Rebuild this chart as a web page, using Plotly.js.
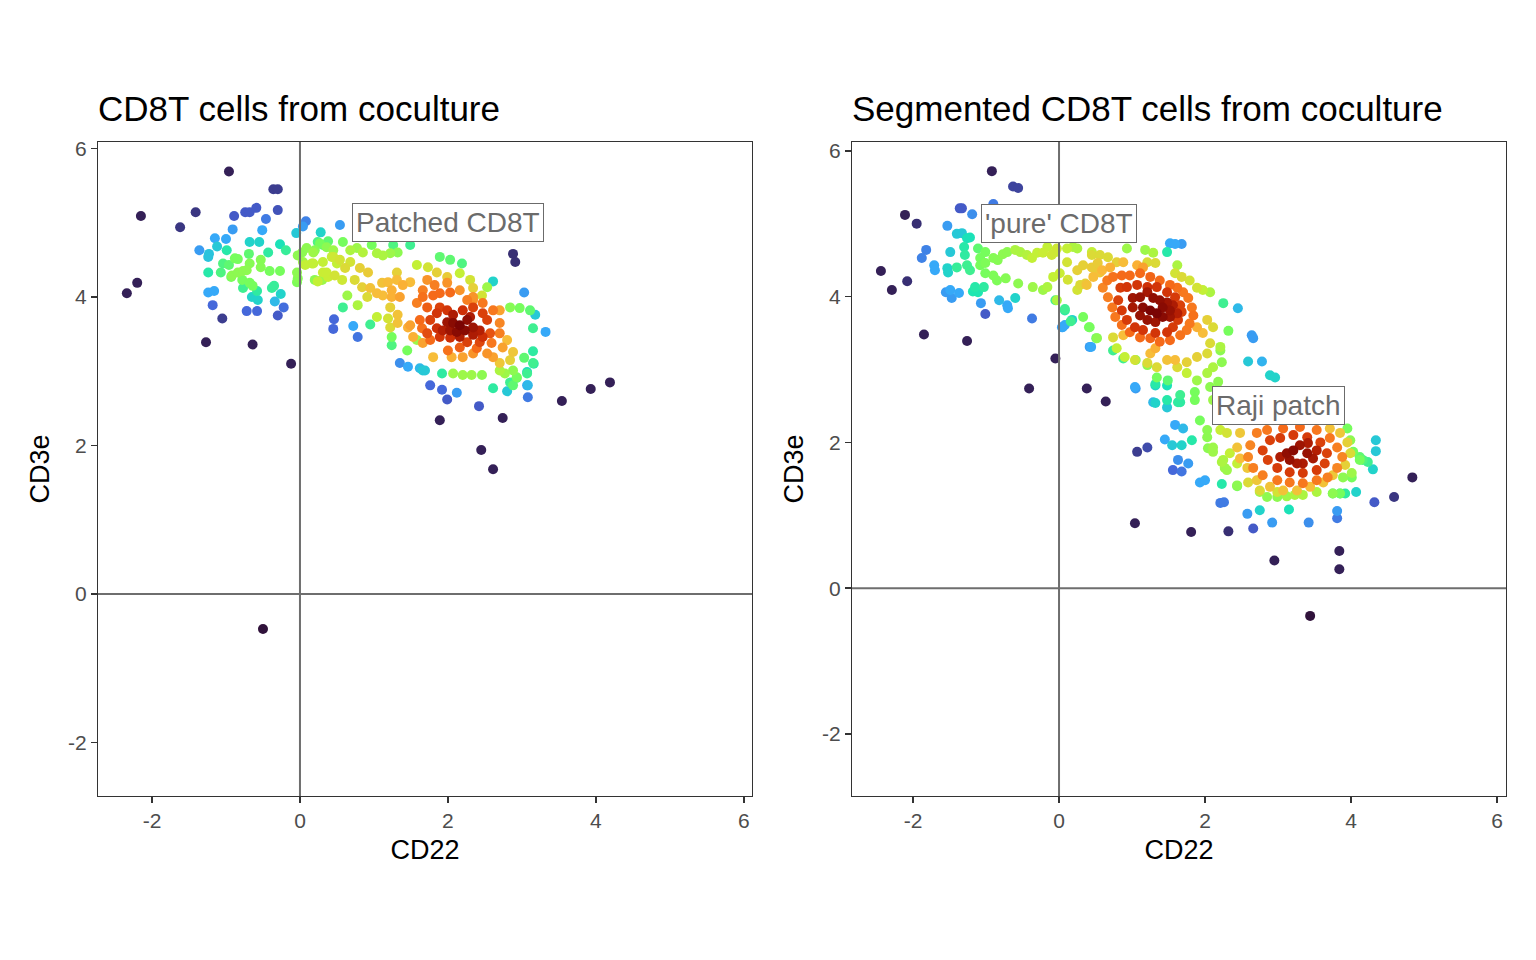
<!DOCTYPE html>
<html><head><meta charset="utf-8">
<script src="https://cdn.plot.ly/plotly-3.0.1.min.js"></script>
<style>html,body{margin:0;padding:0;background:#fff}#chart{width:1536px;height:960px}</style>
</head><body><div id="chart"></div>
<script>
// ---- text ----
const panelTitles = ['CD8T cells from coculture', 'Segmented CD8T cells from coculture'];
const xAxisTitle = 'CD22';
const yAxisTitle = 'CD3e';
const tickValues = [-2, 0, 2, 4, 6];
const tickLabels = ['-2', '0', '2', '4', '6'];
const leftLabels = [{text: 'Patched CD8T', x: 2, y: 5}];
const rightLabels = [{text: "'pure' CD8T", x: 0, y: 5}, {text: 'Raji patch', x: 3, y: 2.5}];

// ---- data: [CD22, CD3e, relative point density] ----
const cocultureCells = [
[-0.96,5.69,0.02],[-0.36,5.45,0.06],[-0.30,5.45,0.06],[-2.15,5.09,0.02],[-1.41,5.14,0.05],[-1.62,4.94,0.05],
[-0.89,5.09,0.10],[-0.74,5.14,0.10],[-0.68,5.14,0.10],[-0.59,5.20,0.10],[-0.30,5.17,0.09],[-0.46,5.05,0.15],
[-0.91,4.91,0.20],[-0.51,4.90,0.22],[0.08,5.02,0.16],[0.04,4.95,0.20],[-0.05,4.86,0.28],[0.28,4.87,0.30],
[-1.15,4.79,0.22],[-1.00,4.78,0.22],[-1.36,4.63,0.20],[-1.23,4.58,0.27],[-1.24,4.54,0.27],[-1.12,4.68,0.28],
[-0.99,4.63,0.35],[-0.68,4.74,0.30],[-0.55,4.74,0.30],[-0.27,4.71,0.33],[-0.19,4.63,0.37],[-0.43,4.60,0.36],
[-0.69,4.58,0.42],[-0.88,4.52,0.45],[-0.84,4.51,0.45],[-1.04,4.45,0.40],[-0.96,4.43,0.42],[-0.68,4.45,0.47],
[-0.53,4.50,0.47],[-0.53,4.40,0.47],[-0.41,4.35,0.45],[-0.27,4.35,0.45],[-1.24,4.33,0.35],[-1.07,4.33,0.40],
[-0.92,4.29,0.48],[-0.84,4.33,0.48],[-0.77,4.35,0.48],[-0.72,4.36,0.48],[-0.93,4.27,0.45],[-0.78,4.23,0.45],
[-0.68,4.19,0.45],[-0.64,4.15,0.45],[-0.77,4.12,0.38],[-0.58,4.08,0.36],[-0.38,4.12,0.37],[-0.35,4.15,0.37],
[-0.26,4.04,0.30],[-1.24,4.06,0.22],[-1.16,4.08,0.22],[-0.65,4.00,0.30],[-0.57,3.96,0.30],[-0.34,3.94,0.25],
[-1.18,3.89,0.12],[-0.22,3.86,0.13],[-0.72,3.81,0.12],[-0.58,3.81,0.12],[-0.30,3.75,0.10],[-1.05,3.71,0.06],
[-2.20,4.19,0.02],[-2.34,4.05,0.02],[-1.27,3.39,0.02],[-0.64,3.36,0.02],[-0.12,3.10,0.02],[-0.50,-0.47,0.00],
[-0.03,4.56,0.48],[0.03,4.60,0.48],[0.09,4.66,0.48],[0.18,4.60,0.50],[0.04,4.47,0.50],[-0.04,4.33,0.48],
[-0.03,4.25,0.47],[-0.04,4.20,0.46],[0.24,4.74,0.40],[0.31,4.70,0.42],[0.38,4.75,0.42],
[0.16,4.45,0.55],[0.31,4.47,0.55],[0.43,4.54,0.55],[0.50,4.45,0.55],[0.31,4.33,0.56],[0.38,4.27,0.56],[0.24,4.21,0.55],
[0.46,3.70,0.12],[0.45,3.57,0.12],[0.54,4.97,0.20],
[0.20,4.63,0.47],[0.27,4.72,0.45],[0.36,4.67,0.48],[0.45,4.63,0.50],[0.58,4.74,0.45],[0.68,4.63,0.52],
[0.77,4.66,0.50],[0.85,4.60,0.53],[0.97,4.70,0.45],[1.04,4.59,0.52],[1.12,4.56,0.52],[1.22,4.59,0.50],
[1.32,4.60,0.48],[1.26,4.70,0.40],[1.49,4.70,0.38],
[0.07,4.43,0.55],[0.18,4.45,0.55],[0.45,4.54,0.57],[0.54,4.50,0.58],[0.68,4.47,0.58],[0.61,4.39,0.60],
[0.47,4.29,0.58],[0.57,4.23,0.57],[0.36,4.33,0.56],[0.30,4.23,0.50],[0.20,4.23,0.48],
[0.81,4.39,0.62],[0.92,4.33,0.63],[0.74,4.23,0.60],[0.84,4.13,0.62],[0.95,4.12,0.65],[1.04,4.05,0.66],
[0.91,4.00,0.60],[1.11,4.19,0.65],[1.19,4.20,0.66],[1.31,4.33,0.62],[1.31,4.23,0.66],[1.39,4.16,0.68],
[1.49,4.20,0.66],[1.24,4.09,0.68],[1.12,4.02,0.66],[1.24,4.00,0.68],[1.35,4.00,0.70],
[0.64,4.02,0.50],[0.58,3.86,0.38],[0.78,3.89,0.52],[1.04,3.73,0.55],[1.22,3.86,0.62],[1.19,3.71,0.58],
[1.32,3.76,0.65],[1.22,3.59,0.60],[1.32,3.65,0.65],[1.46,3.59,0.68],
[1.58,4.43,0.55],[1.73,4.40,0.58],[1.89,4.54,0.42],[2.03,4.50,0.42],[1.85,4.33,0.62],[1.99,4.27,0.63],
[2.16,4.32,0.55],[2.19,4.45,0.40],[2.30,4.23,0.58],[2.34,4.12,0.62],[2.46,4.02,0.58],[2.53,4.13,0.50],
[1.72,4.23,0.72],[1.82,4.16,0.75],[1.99,4.19,0.72],[1.66,4.09,0.75],[1.80,4.02,0.78],[1.89,4.05,0.78],
[2.03,4.06,0.78],[2.16,4.09,0.72],[2.26,3.96,0.75],[2.34,3.96,0.72],
[2.07,3.65,0.98],[2.16,3.62,1.00],[2.26,3.69,0.97],[2.12,3.53,0.98],[2.23,3.55,0.98],[2.34,3.59,0.95],
[1.99,3.66,0.95],[2.03,3.55,0.95],[2.34,3.49,0.93],[2.43,3.55,0.92],[2.30,3.73,0.93],[2.07,3.76,0.93],
[1.93,3.55,0.92],[2.16,3.46,0.93],[2.47,3.46,0.88],
[1.76,3.69,0.85],[1.85,3.78,0.87],[1.89,3.86,0.85],[1.99,3.82,0.87],[2.20,3.82,0.88],[2.34,3.86,0.85],
[2.47,3.78,0.85],[2.53,3.69,0.85],[1.85,3.58,0.88],[1.72,3.51,0.83],[1.89,3.46,0.87],[2.03,3.45,0.88],
[2.26,3.39,0.85],[2.43,3.39,0.84],[2.57,3.51,0.82],
[1.58,3.92,0.75],[1.66,4.00,0.77],[1.72,3.86,0.80],[1.62,3.69,0.78],[1.65,3.58,0.77],[1.76,3.42,0.78],
[2.00,3.28,0.77],[2.16,3.32,0.80],[2.39,3.31,0.78],[2.59,3.38,0.76],[2.70,3.51,0.75],[2.70,3.65,0.74],
[2.61,3.82,0.76],[2.47,3.92,0.76],[2.34,4.00,0.72],[2.70,3.82,0.70],
[1.49,3.62,0.70],[1.53,3.46,0.68],[1.66,3.38,0.70],[1.80,3.19,0.66],[2.05,3.19,0.68],[2.20,3.19,0.70],
[2.34,3.24,0.72],[2.53,3.24,0.72],[2.61,3.19,0.70],[2.74,3.32,0.70],[2.80,3.42,0.66],[2.88,3.26,0.64],
[2.84,3.15,0.62],[2.70,3.11,0.64],
[2.70,3.01,0.52],[2.77,2.97,0.50],[2.88,3.01,0.48],[2.93,2.92,0.45],[2.07,2.97,0.50],[2.20,2.95,0.50],
[2.32,2.95,0.50],[2.46,2.95,0.48],[1.45,3.28,0.45],[1.58,3.42,0.50],[1.24,3.35,0.40],[2.88,2.81,0.42],
[0.95,3.63,0.38],[1.66,3.01,0.28],[1.92,2.97,0.36],[2.61,2.77,0.36],[2.84,2.85,0.38],[3.07,2.97,0.38],
[3.15,3.11,0.38],[3.15,3.58,0.38],[3.11,3.82,0.42],[2.97,3.85,0.45],[2.84,3.86,0.47],
[0.72,3.61,0.22],[1.35,3.11,0.18],[1.46,3.06,0.22],[2.12,2.71,0.20],[2.80,2.73,0.28],[3.07,2.81,0.22],
[3.18,3.76,0.28],[3.32,3.53,0.22],[3.03,4.06,0.20],[2.61,4.21,0.30],
[0.78,3.46,0.14],[1.76,2.81,0.12],[1.92,2.75,0.12],[1.99,2.62,0.10],[2.88,4.58,0.04],[2.91,4.47,0.04],
[3.16,3.10,0.35],[3.15,3.27,0.36],[3.03,3.18,0.42],[3.07,2.99,0.32],[3.08,2.81,0.25],[3.08,2.65,0.15],
[2.93,2.91,0.42],[1.62,3.04,0.25],[1.69,3.01,0.28],[1.24,3.46,0.45],
[2.42,2.53,0.10],[1.89,2.34,0.02],[2.74,2.37,0.02],[2.45,1.94,0.02],[2.61,1.68,0.02],[3.54,2.60,0.02],
[3.93,2.76,0.02],[4.19,2.85,0.02]
];

const segmentedCells = [
[-0.92,5.72,0.02],[-0.63,5.51,0.07],[-0.56,5.49,0.07],[-1.36,5.21,0.10],[-1.33,5.21,0.10],[-0.90,5.27,0.15],
[-2.11,5.12,0.02],[-1.95,5.00,0.04],[-1.19,5.13,0.18],[-1.53,4.97,0.20],[-1.40,4.86,0.28],[-1.33,4.87,0.28],
[-1.26,4.80,0.33],[-1.22,4.81,0.33],[-1.30,4.68,0.35],[-1.29,4.57,0.36],[-1.49,4.61,0.28],[-1.82,4.64,0.16],
[-1.88,4.53,0.16],[-1.71,4.43,0.22],[-1.70,4.36,0.22],[-1.53,4.39,0.30],[-1.52,4.33,0.30],[-1.40,4.40,0.37],
[-1.26,4.43,0.38],[-1.22,4.36,0.38],
[-1.08,4.53,0.45],[-1.01,4.61,0.45],[-1.11,4.66,0.42],[-1.01,4.46,0.46],[-0.90,4.53,0.47],[-0.84,4.50,0.47],
[-0.77,4.58,0.48],[-0.71,4.61,0.48],[-0.60,4.64,0.52],[-0.53,4.61,0.52],[-0.44,4.57,0.53],[-0.37,4.53,0.55],
[-0.30,4.60,0.55],[-0.22,4.60,0.56],[-0.10,4.57,0.57],[-0.03,4.66,0.57],[0.11,4.66,0.55],[0.25,4.66,0.52],
[-1.08,4.43,0.45],[-1.01,4.32,0.45],[-0.90,4.29,0.46],[-0.85,4.22,0.46],[-0.73,4.25,0.47],[-0.56,4.18,0.48],
[-0.36,4.13,0.50],[-0.22,4.09,0.50],[-0.16,4.13,0.52],[-0.03,3.95,0.52],[-0.08,4.27,0.55],[0.01,4.32,0.56],
[0.11,4.47,0.58],[0.12,4.23,0.58],[0.25,4.09,0.58],[0.29,4.16,0.60],[0.36,4.18,0.62],
[-1.15,4.13,0.35],[-1.03,4.13,0.36],[-1.18,4.07,0.34],[-1.11,4.06,0.34],[-1.55,4.06,0.20],[-1.49,4.09,0.22],
[-1.47,3.98,0.20],[-1.37,4.05,0.22],[-2.08,4.21,0.04],[-2.44,4.35,0.02],[-2.29,4.09,0.02],[-1.07,3.91,0.20],
[-0.82,3.95,0.25],[-0.71,3.88,0.22],[-0.70,3.84,0.22],[-0.60,3.98,0.30],[-1.01,3.76,0.10],[-0.37,3.70,0.15],
[0.08,3.83,0.38],[0.16,3.66,0.38],[0.04,3.58,0.20],[0.08,3.61,0.22],[0.41,3.58,0.45],[0.51,3.43,0.42],
[0.44,3.31,0.22],[-1.85,3.48,0.02],[-1.26,3.39,0.02],[-0.05,3.15,0.02],[-0.41,2.74,0.02],[0.38,2.74,0.02],
[0.45,4.57,0.60],[0.56,4.57,0.60],[0.47,4.39,0.63],[0.56,4.33,0.64],[0.33,4.43,0.62],[0.25,4.36,0.62],
[1.52,4.73,0.22],[1.59,4.72,0.22],[1.68,4.72,0.20],[1.48,4.61,0.35],
[-0.16,4.68,0.55],[-0.05,4.61,0.56],[0.19,4.68,0.52],[0.45,4.61,0.55],[0.67,4.54,0.60],[0.79,4.47,0.62],
[0.93,4.66,0.50],[1.18,4.64,0.50],[1.29,4.60,0.52],[1.21,4.47,0.60],[1.32,4.46,0.60],
[1.62,4.43,0.52],[1.59,4.32,0.58],[1.68,4.27,0.60],[1.79,4.22,0.58],[1.89,4.12,0.58],[1.97,4.09,0.55],
[2.07,4.06,0.52],[2.25,3.91,0.38],[2.45,3.84,0.25],[2.64,3.47,0.20],[2.66,3.43,0.20],[2.59,3.11,0.28],
[2.78,3.11,0.24],[2.89,2.92,0.30],[2.96,2.89,0.30],[2.32,3.53,0.45],[2.21,3.26,0.48],[2.23,3.10,0.48],
[0.38,4.16,0.65],[0.47,4.27,0.66],[0.59,4.36,0.67],[0.70,4.40,0.68],[0.88,4.47,0.66],[1.07,4.43,0.68],
[1.15,4.40,0.70],[0.45,4.40,0.63],[0.53,4.46,0.63],
[0.66,4.22,0.76],[0.74,4.27,0.77],[0.86,4.29,0.78],[0.97,4.29,0.78],[1.11,4.32,0.78],[1.25,4.27,0.79],
[1.38,4.22,0.78],[1.52,4.16,0.78],[1.62,4.12,0.77],[1.70,4.06,0.76],[1.77,3.98,0.76],[1.82,3.85,0.76],
[1.84,3.74,0.77],[1.79,3.63,0.76],[1.75,3.54,0.76],[1.66,3.47,0.77],[1.52,3.40,0.78],[1.38,3.38,0.78],
[1.25,3.43,0.79],[1.11,3.44,0.78],[0.97,3.51,0.78],[0.86,3.61,0.77],[0.77,3.72,0.76],[0.73,3.85,0.76],
[0.67,3.99,0.75],[0.60,4.12,0.74],
[0.84,4.12,0.86],[0.93,4.13,0.87],[1.07,4.16,0.87],[1.21,4.13,0.88],[1.34,4.13,0.87],[1.48,4.06,0.87],
[1.59,3.99,0.86],[1.66,3.88,0.85],[1.68,3.79,0.85],[1.63,3.68,0.86],[1.56,3.58,0.86],[1.48,3.51,0.87],
[1.32,3.50,0.87],[1.15,3.54,0.87],[1.04,3.58,0.87],[0.93,3.68,0.86],[0.86,3.81,0.86],[0.81,3.95,0.85],
[1.01,3.98,0.95],[1.11,3.99,0.96],[1.21,4.06,0.94],[1.29,3.98,0.97],[1.38,3.95,0.97],[1.48,3.92,0.95],
[1.56,3.88,0.93],[1.15,3.85,0.98],[1.25,3.81,1.00],[1.34,3.77,1.00],[1.42,3.72,0.98],[1.52,3.72,0.95],
[1.11,3.74,0.96],[1.21,3.68,0.96],[1.32,3.65,0.95],[1.42,3.85,0.98],[1.52,3.81,0.96],[1.01,3.85,0.94],
[1.62,3.77,0.92],
[0.42,3.58,0.45],[0.52,3.43,0.48],[0.74,3.44,0.60],[0.88,3.47,0.66],[0.79,3.29,0.55],[0.90,3.17,0.55],
[1.04,3.13,0.58],[1.21,3.09,0.60],[1.34,3.03,0.60],[1.48,3.13,0.65],[1.62,3.03,0.60],[1.75,3.10,0.62],
[1.89,3.17,0.62],[2.03,3.22,0.60],[2.07,3.36,0.60],[1.97,3.50,0.66],[1.89,3.58,0.68],[2.03,3.68,0.62],
[2.11,3.58,0.60],[2.21,3.31,0.52],[2.11,3.03,0.52],[2.03,2.95,0.52],[1.89,2.85,0.50],[1.75,2.95,0.55],
[1.59,3.13,0.66],[1.25,3.22,0.66],[1.32,3.29,0.68],
[0.33,3.72,0.45],[0.08,3.81,0.36],[-0.05,3.95,0.38],[0.18,3.68,0.30],[0.05,3.58,0.22],[0.42,3.31,0.20],
[0.74,3.26,0.38],[0.88,3.15,0.38],[1.05,3.13,0.45],[1.21,3.06,0.48],[1.34,2.89,0.45],[1.49,2.85,0.42],
[1.32,2.80,0.35],[1.48,2.58,0.35],[1.66,2.65,0.38],[1.66,2.55,0.36],[1.86,2.69,0.45],[1.86,2.58,0.45],
[1.05,2.74,0.20],[1.29,2.55,0.25],[1.48,2.48,0.28],[0.64,2.56,0.02],
[1.04,2.76,0.22],[1.32,2.78,0.30],[1.48,2.78,0.33],[1.32,2.54,0.30],[1.63,2.55,0.36],
[1.59,2.24,0.22],[1.70,2.19,0.25],[1.82,2.03,0.35],[1.45,2.04,0.22],[1.55,1.96,0.28],[1.68,1.96,0.30],
[1.07,1.87,0.06],[1.21,1.93,0.08],[1.63,1.76,0.18],[1.77,1.71,0.20],[1.56,1.62,0.12],[1.68,1.60,0.14],
[1.93,1.45,0.22],[2.00,1.48,0.22],[2.23,1.43,0.35],[2.21,1.17,0.15],[2.26,1.18,0.15],[2.44,1.40,0.45],
[2.58,1.02,0.20],[2.75,1.07,0.30],[2.66,0.82,0.10],[2.32,0.78,0.04],[1.81,0.77,0.02],[1.04,0.89,0.02],
[2.92,0.90,0.20],[3.15,1.08,0.33],[3.42,0.90,0.18],[2.95,0.38,0.02],[3.84,0.51,0.02],[3.84,0.26,0.02],
[3.44,-0.38,0.00],[3.81,1.06,0.20],[3.81,0.96,0.15],[4.07,1.32,0.30],[3.75,1.30,0.38],[3.85,1.30,0.38],
[3.92,1.30,0.36],[4.32,1.18,0.10],[4.59,1.25,0.05],[4.84,1.52,0.02],[4.34,2.03,0.28],[4.34,1.88,0.28],
[4.30,1.63,0.30],[4.23,1.73,0.38],[4.16,1.76,0.40],[4.12,1.80,0.42],[4.03,1.87,0.45],[3.99,2.03,0.48],
[3.95,2.19,0.45],[4.01,1.52,0.45],[3.89,1.52,0.48],
[2.04,1.92,0.48],[2.11,1.87,0.50],[2.23,1.73,0.52],[2.27,1.65,0.50],[2.44,1.71,0.55],[2.34,1.85,0.55],
[3.12,1.85,0.97],[3.21,1.89,0.98],[3.30,1.96,0.95],[3.40,1.85,0.96],[3.48,1.78,0.94],[3.16,1.76,0.96],
[3.26,1.71,0.94],[3.34,1.71,0.93],[3.03,1.80,0.93],[3.41,1.99,0.93],[3.53,1.89,0.92],
[2.89,2.03,0.85],[3.03,2.06,0.86],[3.21,2.10,0.86],[3.40,2.07,0.86],[3.58,2.00,0.85],[3.67,1.85,0.85],
[3.64,1.71,0.85],[3.53,1.62,0.86],[3.34,1.58,0.86],[3.16,1.59,0.86],[2.99,1.65,0.86],[2.86,1.76,0.85],
[2.79,1.89,0.85],
[2.71,2.13,0.75],[2.85,2.17,0.76],[3.07,2.19,0.78],[3.30,2.21,0.78],[3.53,2.17,0.76],[3.71,2.06,0.76],
[3.81,1.93,0.75],[3.88,1.80,0.74],[3.81,1.65,0.74],[3.68,1.52,0.75],[3.53,1.48,0.76],[3.34,1.44,0.76],
[3.16,1.45,0.76],[2.99,1.48,0.76],[2.79,1.55,0.75],[2.66,1.65,0.75],[2.59,1.80,0.74],[2.62,1.96,0.74],
[2.48,2.13,0.64],[2.44,1.93,0.65],[2.48,1.78,0.66],[2.58,1.65,0.64],[2.71,1.48,0.64],[2.89,1.39,0.65],
[3.07,1.34,0.65],[3.26,1.34,0.65],[3.44,1.39,0.66],[3.62,1.45,0.65],[3.75,1.55,0.64],[3.92,1.69,0.62],
[3.99,1.85,0.60],[3.95,2.00,0.62],[3.85,2.13,0.64],[3.71,2.19,0.65],[2.30,2.13,0.58],[2.21,2.17,0.56],
[2.59,1.45,0.60],[2.75,1.34,0.60],[2.99,1.32,0.58],
[2.75,1.32,0.50],[2.85,1.25,0.48],[2.99,1.25,0.48],[3.12,1.26,0.50],[3.23,1.28,0.52],[3.34,1.28,0.52],
[3.53,1.32,0.52],[3.75,1.30,0.48],[3.85,1.30,0.45],[4.01,1.58,0.50],[4.12,1.76,0.45],[2.11,1.93,0.50],
[2.25,1.76,0.52],[2.30,1.62,0.50],[2.44,1.41,0.48],[2.03,2.07,0.48],[1.93,2.30,0.45],
[2.07,2.76,0.48],[2.18,2.83,0.48],[2.03,2.17,0.48],[2.11,2.58,0.50],[2.21,2.51,0.50],[2.34,2.65,0.50]
];

// turbo colour scale
const turboStops = ['#30123b','#4662d7','#36aaf9','#1ae4b6','#72fe5e','#c7ef34','#faba39','#f66b19','#cb2a04','#7a0403'];
const turbo = turboStops.map((c, i) => [i / (turboStops.length - 1), c]);

function makeTrace(points, xa, ya) {
  const sorted = points.slice().sort((a, b) => a[2] - b[2]);
  return {
    type: 'scatter', mode: 'markers', xaxis: xa, yaxis: ya,
    x: sorted.map(p => p[0]), y: sorted.map(p => p[1]),
    marker: {size: 10, color: sorted.map(p => p[2]), colorscale: turbo, cmin: 0, cmax: 1, showscale: false, line: {width: 0}},
    hoverinfo: 'x+y', showlegend: false
  };
}

const FONT = 'Liberation Sans, Arial, Helvetica, sans-serif';
const tickFont = {family: FONT, size: 21, color: '#4d4d4d'};
const axTitleFont = {family: FONT, size: 27, color: '#000'};

function xAxis(domain, range, anchor) {
  return {domain, range, anchor, tickmode: 'array', tickvals: tickValues, ticktext: tickLabels,
    ticks: 'outside', ticklen: 6, tickwidth: 1.5, tickcolor: '#333', tickfont: tickFont,
    showline: true, mirror: true, linecolor: '#333', linewidth: 1.2, showgrid: false, zeroline: false,
    automargin: false, title: {text: xAxisTitle, font: axTitleFont, standoff: 8}};
}
function yAxis(domain, range, anchor) {
  return {domain, range, anchor, tickmode: 'array', tickvals: tickValues, ticktext: tickLabels,
    ticks: 'outside', ticklen: 6, tickwidth: 1.5, tickcolor: '#333', tickfont: tickFont,
    showline: true, mirror: true, linecolor: '#333', linewidth: 1.2, showgrid: false, zeroline: false,
    automargin: false, title: {text: yAxisTitle, font: axTitleFont, standoff: 10}};
}

const yDom = [(960-796)/960, (960-142)/960];
const layout = {
  width: 1536, height: 960, margin: {l: 0, r: 0, t: 0, b: 0},
  paper_bgcolor: '#fff', plot_bgcolor: '#fff', font: {family: FONT},
  xaxis: xAxis([98/1536, 752/1536], [-2.73, 6.11], 'y'),
  yaxis: yAxis(yDom, [-2.72, 6.087], 'x'),
  xaxis2: xAxis([852/1536, 1506/1536], [-2.836, 6.123], 'y2'),
  yaxis2: yAxis(yDom, [-2.85, 6.12], 'x2'),
  shapes: [
    {type: 'line', xref: 'x', yref: 'y domain', x0: 0, x1: 0, y0: 0, y1: 1, line: {color: '#6e6e6e', width: 2}, layer: 'above'},
    {type: 'line', xref: 'x domain', yref: 'y', x0: 0, x1: 1, y0: 0, y1: 0, line: {color: '#6e6e6e', width: 2}, layer: 'above'},
    {type: 'line', xref: 'x2', yref: 'y2 domain', x0: 0, x1: 0, y0: 0, y1: 1, line: {color: '#6e6e6e', width: 2}, layer: 'above'},
    {type: 'line', xref: 'x2 domain', yref: 'y2', x0: 0, x1: 1, y0: 0, y1: 0, line: {color: '#6e6e6e', width: 2}, layer: 'above'}
  ],
  annotations: []
};
layout.annotations.push({text: panelTitles[0], xref: 'paper', yref: 'paper', x: 96/1536, y: (960-108)/960, xanchor: 'left', yanchor: 'middle', showarrow: false, font: {family: FONT, size: 35, color: '#000'}});
layout.annotations.push({text: panelTitles[1], xref: 'paper', yref: 'paper', x: 850/1536, y: (960-108)/960, xanchor: 'left', yanchor: 'middle', showarrow: false, font: {family: FONT, size: 35, color: '#000'}});
const labelStyle = {showarrow: false, bgcolor: '#fff', bordercolor: '#6b6b6b', borderwidth: 1, borderpad: 3, font: {family: FONT, size: 28, color: '#6b6b6b'}};
leftLabels.forEach(l => layout.annotations.push(Object.assign({text: l.text, x: l.x, y: l.y, xref: 'x', yref: 'y'}, labelStyle)));
rightLabels.forEach(l => layout.annotations.push(Object.assign({text: l.text, x: l.x, y: l.y, xref: 'x2', yref: 'y2'}, labelStyle)));

Plotly.newPlot('chart', [makeTrace(cocultureCells, 'x', 'y'), makeTrace(segmentedCells, 'x2', 'y2')], layout, {displayModeBar: false, staticPlot: true});
</script>
</body></html>
